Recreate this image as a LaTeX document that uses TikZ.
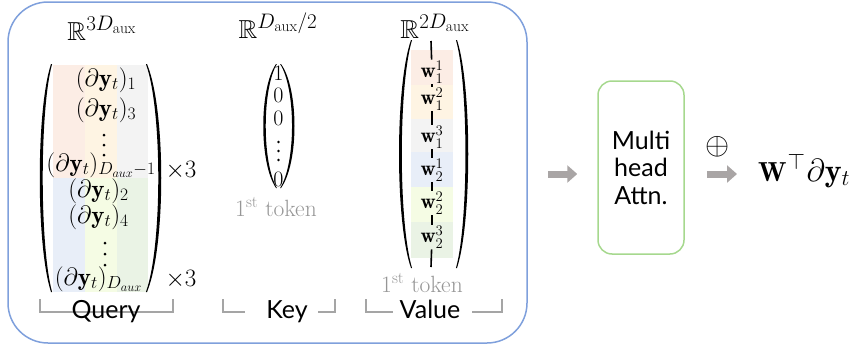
\RequirePackage{fix-cm}
\documentclass[tikz,border=0pt]{standalone}
\usepackage{amsmath,amssymb}
\usepackage{graphicx}
\usepackage{fontspec}
\newfontfamily\lato{Lato}
\usetikzlibrary{arrows.meta}
\definecolor{cOr}{HTML}{FCEDE5}
\definecolor{cYo}{HTML}{FEF4E3}
\definecolor{cGy}{HTML}{F3F3F3}
\definecolor{cBl}{HTML}{E8EEF8}
\definecolor{cLi}{HTML}{F5FCE4}
\definecolor{cGr}{HTML}{EAF3E5}
\definecolor{boxblue}{HTML}{7FA0DC}
\definecolor{boxgreen}{HTML}{A6D88E}
\definecolor{arrgray}{HTML}{A9A5A5}
\definecolor{tokgray}{HTML}{969696}
\definecolor{brgray}{HTML}{A5A5A5}
% x, ytop, ybot, bulge (signed), thickness (signed)
\newcommand{\drawparen}[5]{%
  \fill ({#1},{#2}) .. controls ({#1-(#4)},{#2+0.2*(#3-#2)}) and ({#1-(#4)},{#3-0.2*(#3-#2)}) .. ({#1},{#3})
    -- ({#1+0.3*(#5)},{#3}) .. controls ({#1-(#4)+(#5)},{#3-0.2*(#3-#2)}) and ({#1-(#4)+(#5)},{#2+0.2*(#3-#2)}) .. ({#1+0.3*(#5)},{#2}) -- cycle;}
\newcommand{\Rsup}[1]{\mathbb{R}^{\text{\fontsize{21}{22}\selectfont$#1$}}}
\newcommand{\auxsub}{\text{\fontsize{15.5}{16}\selectfont aux}}
\tikzset{
  qtxt/.style={font=\fontsize{25}{29}\selectfont, inner sep=0pt, anchor=base},
  ktxt/.style={font=\fontsize{22}{24}\selectfont, inner sep=0pt, anchor=base},
  wtxt/.style={font=\fontsize{21}{24}\selectfont, inner sep=1pt},
  rtxt/.style={font=\fontsize{26}{30}\selectfont, inner sep=0pt, anchor=base},
  lbl/.style={font=\lato\fontsize{25}{29}\selectfont, inner sep=0pt, anchor=base},
  tok/.style={font=\fontsize{23.5}{26}\selectfont, text=tokgray, inner sep=0pt, anchor=base},
  brk/.style={draw=brgray, line width=1.4pt},
  vline/.style={draw=black, line width=1.6pt},
  bigarr/.style={draw=arrgray, line width=7pt, -{Triangle[length=10pt,width=17pt]}},
}
\begin{document}
\begin{tikzpicture}[x=1pt,y=-1pt]
\useasboundingbox (0,0) rectangle (863,351);

% outer box
\node[draw=boxblue, line width=1.5pt, rounded corners=40pt, minimum width=519pt, minimum height=341pt, inner sep=0pt] (outer) at (267.5,172.5) {};

% ---------- Query ----------
\node[rtxt] (rq) at (102,40) {$\Rsup{3D_{\auxsub}}$};
\fill[cOr] (53,65) rectangle (85,178);
\fill[cYo] (85,65) rectangle (117,178);
\fill[cGy] (117,65) rectangle (148,178);
\fill[cBl] (53,178) rectangle (85,292);
\fill[cLi] (85,178) rectangle (117,292);
\fill[cGr] (117,178) rectangle (148,292);
\drawparen{51}{64}{292}{15}{3.6}
\drawparen{147}{64}{292}{-19}{-3.6}
\node[qtxt] (q1) at (106,86) {$(\partial\mathbf{y}_t)_1$};
\node[qtxt] (q3) at (106,116) {$(\partial\mathbf{y}_t)_3$};
\fill (104,135) circle (1.5pt) (104,145) circle (1.5pt) (104,155) circle (1.5pt);
\node[qtxt] (qd1) at (101,171) {$(\partial\mathbf{y}_t)_{D_{aux}-1}$};
\node[qtxt] (q2) at (98.5,197) {$(\partial\mathbf{y}_t)_2$};
\node[qtxt] (q4) at (98.5,223) {$(\partial\mathbf{y}_t)_4$};
\fill (105,243) circle (1.5pt) (105,254) circle (1.5pt) (105,265) circle (1.5pt);
\node[qtxt] (qd) at (98.5,285) {$(\partial\mathbf{y}_t)_{D_{aux}}$};
\node[qtxt] (x1) at (181,177) {$\times3$};
\node[qtxt] (x2) at (181,286) {$\times3$};

% ---------- Key ----------
\node[rtxt] (rk) at (278,38) {$\Rsup{D_{\auxsub}/2}$};
\drawparen{276}{64}{188}{17}{3.0}
\drawparen{281}{64}{188}{-18}{-3.0}
\node[ktxt] (k1) at (278.5,80) {$1$};
\node[ktxt] (k2) at (278.5,102) {$0$};
\node[ktxt] (k3) at (278.5,125) {$0$};
\fill (278.5,142) circle (1.4pt) (278.5,151) circle (1.4pt) (278.5,160) circle (1.4pt);
\node[ktxt] (k4) at (278.5,186) {$0$};
\node[tok] (kt) at (276,216) {1\textsuperscript{st} token};

% ---------- Value ----------
\node[rtxt] (rv) at (435,38) {$\Rsup{2D_{\auxsub}}$};
\fill[cOr] (411,50) rectangle (453,85);
\fill[cYo] (411,85) rectangle (453,119);
\fill[cGy] (411,119) rectangle (453,152);
\fill[cBl] (411,152) rectangle (453,187);
\fill[cLi] (411,187) rectangle (453,222);
\fill[cGr] (411,222) rectangle (453,258);
\drawparen{411}{40}{268}{16}{3.4}
\drawparen{457}{40}{268}{-15}{-3.4}
\node[wtxt, fill=cOr] (w11) at (432,72) {$\mathbf{w}_1^1$};
\node[wtxt, fill=cYo] (w12) at (432,99) {$\mathbf{w}_1^2$};
\node[wtxt, fill=cGy] (w13) at (432,137) {$\mathbf{w}_1^3$};
\node[wtxt, fill=cBl] (w21) at (432,170) {$\mathbf{w}_2^1$};
\node[wtxt, fill=cLi] (w22) at (432,203) {$\mathbf{w}_2^2$};
\node[wtxt, fill=cGr] (w23) at (432,237) {$\mathbf{w}_2^3$};
\coordinate (vtop) at (431,41);
\coordinate (vbot) at (431,267);
\draw[vline] (vtop) -- (w11);
\draw[vline] (w11) -- (w12);
\draw[vline] (w12) -- (w13);
\draw[vline] (w13) -- (w21);
\draw[vline] (w21) -- (w22);
\draw[vline] (w22) -- (w23);
\draw[vline] (w23) -- (vbot);
\node[tok] (vt) at (422,292) {1\textsuperscript{st} token};

% ---------- brackets ----------
\draw[brk] (40,299) -- (40,312) -- (173,312) -- (173,299);
\node[lbl] (lq) at (106,318) {Query};
\draw[brk] (223,299) -- (223,312) -- (245,312);
\draw[brk] (318,312) -- (335,312) -- (335,299);
\node[lbl] (lk) at (287,318) {Key};
\draw[brk] (366,299) -- (366,312) -- (393,312);
\draw[brk] (472,312) -- (502,312) -- (502,299);
\node[lbl] (lv) at (430,318) {Value};

% ---------- right part ----------
\node[draw=boxgreen, line width=1.5pt, rounded corners=14pt, minimum width=86pt, minimum height=173pt, align=center, inner sep=0pt, font=\lato\fontsize{25}{27.5}\selectfont] (mha) at (641,167.5) {Multi\\head\\Attn.};
\node[font=\fontsize{31}{33}\selectfont, inner sep=0pt] (plus) at (718,147) {$\oplus$};
\node[font=\fontsize{32}{35}\selectfont, inner sep=0pt, anchor=base west] (out) at (758,181) {$\scalebox{0.86}{$\mathbf{W}$}^{\kern1pt\top}\kern1pt\partial\mathbf{y}_{t}$};
\coordinate (ay) at (0,174);
\draw[bigarr, shorten <=20pt, shorten >=20pt] (outer.east |- ay) -- (mha.west |- ay);
\draw[bigarr, shorten <=22pt, shorten >=21pt] (mha.east |- ay) -- (out.west |- ay);
\end{tikzpicture}
\end{document}
